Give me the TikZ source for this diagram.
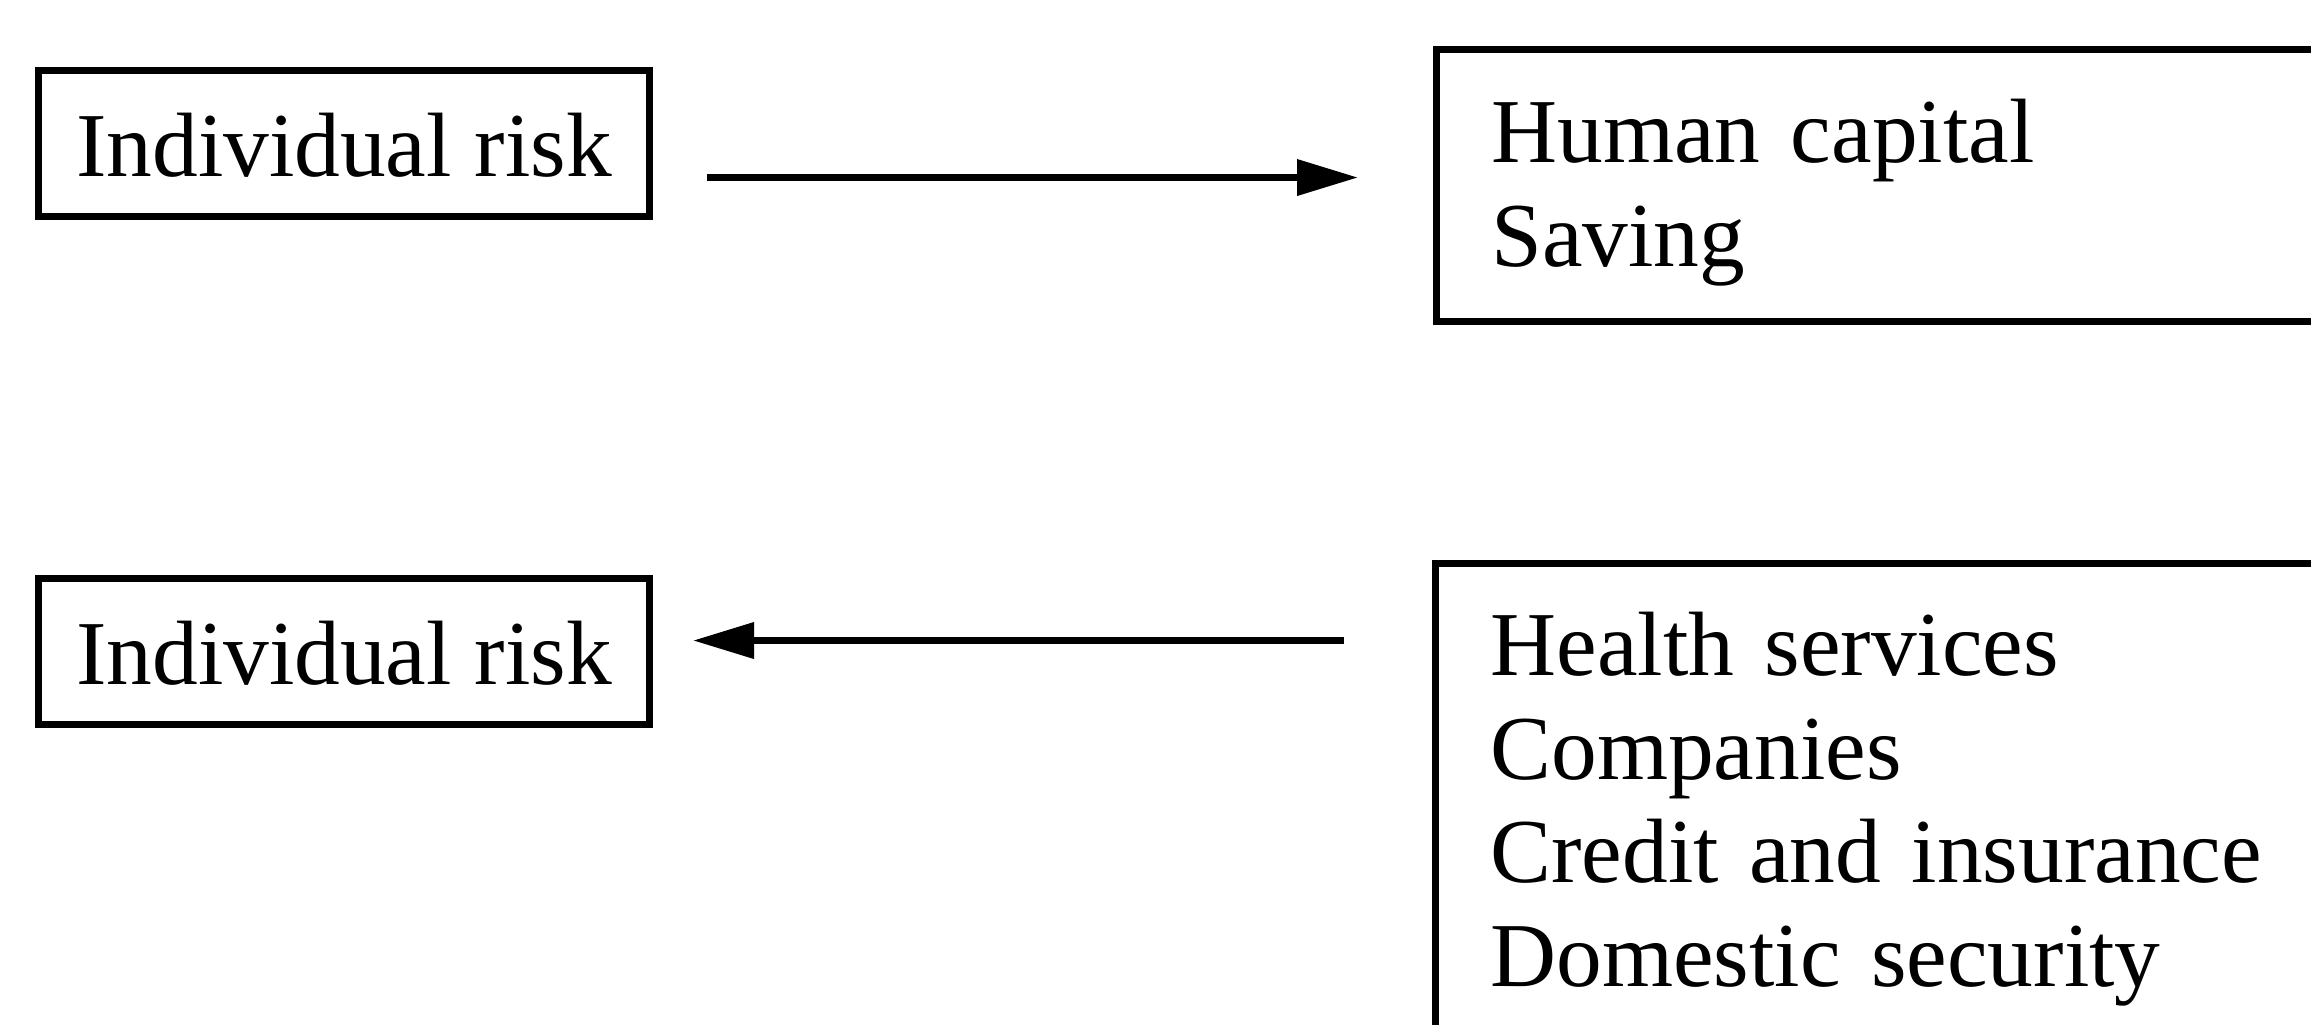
\documentclass[tikz,border=0pt]{standalone}
\usepackage{fontspec}
\setmainfont{Liberation Serif}
\usetikzlibrary{arrows.meta}

\begin{document}
\begin{tikzpicture}[
        font=\fontsize{26pt}{29.5pt}\selectfont,
        riskbox/.style={draw, line width=2pt, inner sep=0pt, minimum width=6.11cm,
            text height=1.06cm, text depth=0.40cm, anchor=north west},
        listbox/.style={draw, line width=2pt, inner xsep=0.55cm, inner ysep=0pt,
            text width=8.9cm, align=left, anchor=north west},
        flow/.style={line width=2pt, -{Triangle[length=6.1mm, width=3.5mm]}}
    ]
        \useasboundingbox (0,0) rectangle (23.11,-10.24);
        \clip (0,0) rectangle (23.11,-10.24);

        % upper row
        \node[riskbox] (riskup) at (0.35,-0.67) {Individual risk};
        \node[listbox, text height=1.13cm, text depth=1.59cm] (capbox) at (14.33,-0.46)
            {Human capital\\Saving};

        \coordinate (upstart) at ([shift={(0.54,-0.34)}]riskup.east);
        \coordinate (upend) at (upstart -| capbox.west);
        \draw[flow] (upstart) -- ([xshift=-7.5mm]upend);

        % lower row
        \node[riskbox] (risklow) at (0.35,-5.75) {Individual risk};
        \node[listbox, text height=1.12cm, text depth=5cm] (servbox) at (14.32,-5.60)
            {Health services\\Companies\\Credit and insurance\\Domestic security};

        \coordinate (lowend) at ([yshift=1.1mm]risklow.east);
        \coordinate (lowstart) at (lowend -| servbox.west);
        \draw[flow] ([xshift=-8.8mm]lowstart) -- ([xshift=4mm]lowend);
    \end{tikzpicture}
\end{document}
